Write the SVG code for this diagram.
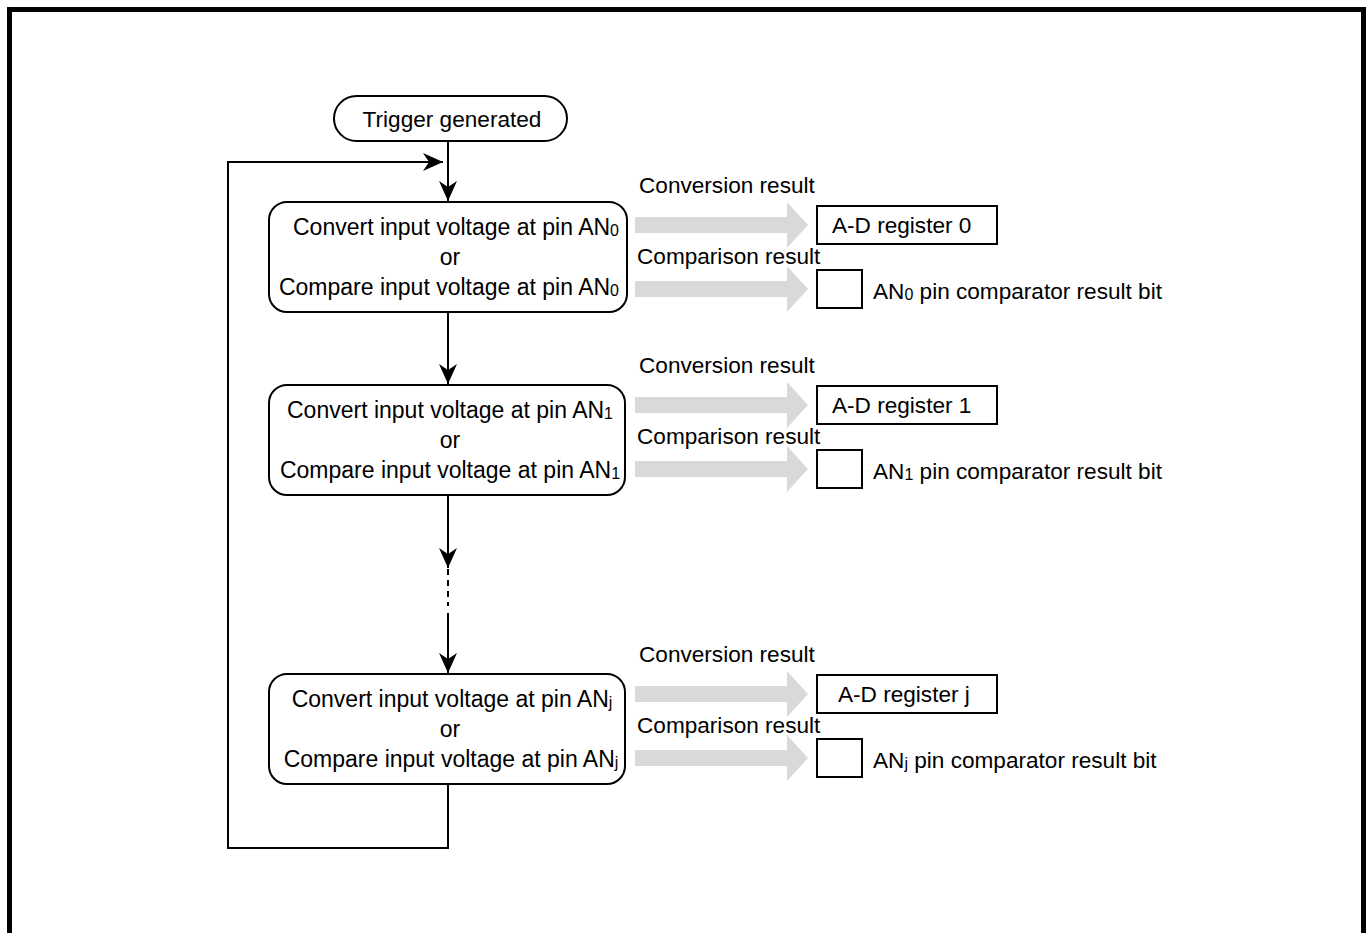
<svg xmlns="http://www.w3.org/2000/svg" width="1370" height="933" viewBox="0 0 1370 933">
<style>
text{font-family:"Liberation Sans",Arial,sans-serif;font-size:22.6px;fill:#000}
.bt{font-size:23px}
.box{fill:#fff;stroke:#000;stroke-width:2}
.ln{fill:none;stroke:#000;stroke-width:2}
.grey{fill:#d9d9d9;stroke:none}
.sub{font-size:16px}
</style>
<defs>
<marker id="ah" markerUnits="userSpaceOnUse" markerWidth="22" markerHeight="20" refX="20" refY="9" orient="auto">
<path d="M0,0 L20,9 L0,18 L6,9 Z" fill="#000"/>
</marker>
<path id="garrow" d="M0,-8 L152,-8 L152,-23 L173,0 L152,23 L152,8 L0,8 Z"/>
</defs>
<rect x="9.5" y="9.5" width="1354" height="1000" fill="#fff" stroke="#000" stroke-width="5"/>

<g id="connectors">
<line class="ln" x1="448" y1="141" x2="448" y2="201" marker-end="url(#ah)"/>
<line class="ln" x1="448" y1="312" x2="448" y2="384" marker-end="url(#ah)"/>
<line class="ln" x1="448" y1="495" x2="448" y2="568" marker-end="url(#ah)"/>
<line class="ln" x1="448" y1="569" x2="448" y2="606" stroke-dasharray="6,5"/>
<line class="ln" x1="448" y1="613" x2="448" y2="673" marker-end="url(#ah)"/>
<polyline class="ln" points="448,784 448,848 228,848 228,162 443,162" marker-end="url(#ah)"/>
<use href="#garrow" class="grey" x="635" y="225"/>
<use href="#garrow" class="grey" x="635" y="289"/>
<use href="#garrow" class="grey" x="635" y="405"/>
<use href="#garrow" class="grey" x="635" y="469"/>
<use href="#garrow" class="grey" x="635" y="694"/>
<use href="#garrow" class="grey" x="635" y="758"/>
</g>

<g id="trigger">
<rect class="box" x="334" y="96" width="233" height="45" rx="22.5"/>
<text x="452" y="127" text-anchor="middle">Trigger generated</text>
</g>

<g id="step0">
<rect class="box" x="269" y="202" width="358" height="110" rx="18"/>
<text class="bt" x="619" y="235" text-anchor="end">Convert input voltage at pin AN<tspan class="sub" dy="1">0</tspan></text>
<text class="bt" x="450" y="265" text-anchor="middle">or</text>
<text class="bt" x="619" y="295" text-anchor="end">Compare input voltage at pin AN<tspan class="sub" dy="1">0</tspan></text>
</g>
<g id="step1">
<rect class="box" x="269" y="385" width="356" height="110" rx="18"/>
<text class="bt" x="450" y="418" text-anchor="middle">Convert input voltage at pin AN<tspan class="sub" dy="1">1</tspan></text>
<text class="bt" x="450" y="448" text-anchor="middle">or</text>
<text class="bt" x="450" y="478" text-anchor="middle">Compare input voltage at pin AN<tspan class="sub" dy="1">1</tspan></text>
</g>
<g id="stepj">
<rect class="box" x="269" y="674" width="356" height="110" rx="18"/>
<text class="bt" x="452" y="707" text-anchor="middle">Convert input voltage at pin AN<tspan class="sub" dy="1">j</tspan></text>
<text class="bt" x="450" y="737" text-anchor="middle">or</text>
<text class="bt" x="451" y="767" text-anchor="middle">Compare input voltage at pin AN<tspan class="sub" dy="1">j</tspan></text>
</g>

<g id="labels0">
<text x="639" y="193">Conversion result</text>
<text x="637" y="264">Comparison result</text>
</g>
<g id="reg0">
<rect class="box" x="817" y="206" width="180" height="38"/>
<text x="832" y="233">A-D register 0</text>
</g>
<g id="bit0">
<rect class="box" x="817" y="270" width="45" height="38"/>
<text x="873" y="299">AN<tspan class="sub" dy="1">0</tspan><tspan dy="-1"> pin comparator result bit</tspan></text>
</g>

<g id="labels1">
<text x="639" y="373">Conversion result</text>
<text x="637" y="444">Comparison result</text>
</g>
<g id="reg1">
<rect class="box" x="817" y="386" width="180" height="38"/>
<text x="832" y="413">A-D register 1</text>
</g>
<g id="bit1">
<rect class="box" x="817" y="450" width="45" height="38"/>
<text x="873" y="479">AN<tspan class="sub" dy="1">1</tspan><tspan dy="-1"> pin comparator result bit</tspan></text>
</g>

<g id="labelsj">
<text x="639" y="662">Conversion result</text>
<text x="637" y="733">Comparison result</text>
</g>
<g id="regj">
<rect class="box" x="817" y="675" width="180" height="38"/>
<text x="838" y="702">A-D register j</text>
</g>
<g id="bitj">
<rect class="box" x="817" y="739" width="45" height="38"/>
<text x="873" y="768">AN<tspan class="sub" dy="1">j</tspan><tspan dy="-1"> pin comparator result bit</tspan></text>
</g>
</svg>
